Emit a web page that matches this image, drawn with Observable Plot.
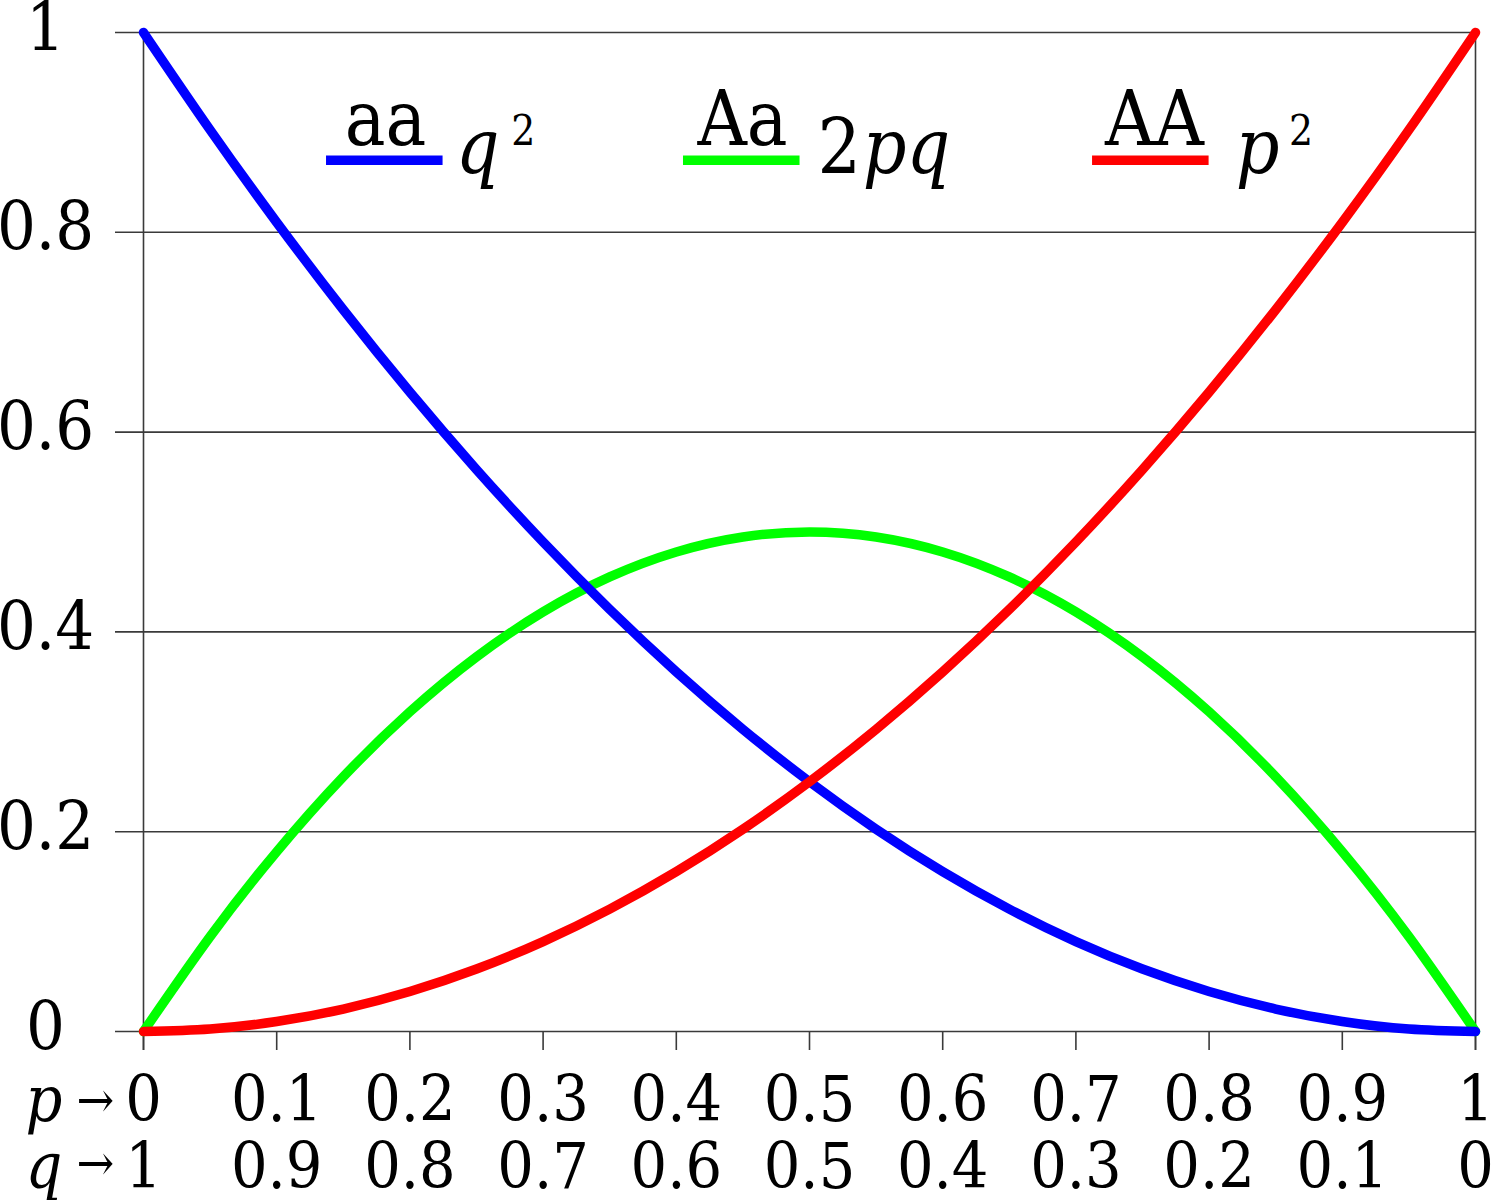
<!DOCTYPE html>
<html><head><meta charset="utf-8">
<script src="https://cdn.jsdelivr.net/npm/d3@7"></script>
<script src="https://cdn.jsdelivr.net/npm/@observablehq/plot@0.6"></script>
<style>
html,body{margin:0;padding:0;background:#fff}
#chart svg{display:block}
</style>
</head><body><div id="chart"></div>
<script>
// p (allele A frequency) sample points
const pValues = [0,0.05,0.1,0.15,0.2,0.25,0.3,0.35,0.4,0.45,0.5,0.55,0.6,0.65,0.7,0.75,0.8,0.85,0.9,0.95,1];
// aa : q^2 (blue)
const aaValues = [1,0.9025,0.81,0.7225,0.64,0.5625,0.49,0.4225,0.36,0.3025,0.25,0.2025,0.16,0.1225,0.09,0.0625,0.04,0.0225,0.01,0.0025,0];
// Aa : 2pq (green)
const AaValues = [0,0.095,0.18,0.255,0.32,0.375,0.42,0.455,0.48,0.495,0.5,0.495,0.48,0.455,0.42,0.375,0.32,0.255,0.18,0.095,0];
// AA : p^2 (red)
const AAValues = [0,0.0025,0.01,0.0225,0.04,0.0625,0.09,0.1225,0.16,0.2025,0.25,0.3025,0.36,0.4225,0.49,0.5625,0.64,0.7225,0.81,0.9025,1];

const xTicks = [0,0.1,0.2,0.3,0.4,0.5,0.6,0.7,0.8,0.9,1];
const pTickLabels = ["0","0.1","0.2","0.3","0.4","0.5","0.6","0.7","0.8","0.9","1"];
const qTickLabels = ["1","0.9","0.8","0.7","0.6","0.5","0.4","0.3","0.2","0.1","0"];
const yTicks = [0,0.2,0.4,0.6,0.8,1];
const yTickLabels = ["0","0.2","0.4","0.6","0.8","1"];

const genotypes = ["aa","Aa","AA"];
const formulaPrefix = ["","2",""];
const formulaVars = ["q","pq","p"];
const formulaSup = ["2","","2"];
const seriesColors = ["#0000ff","#00ff00","#ff0000"];

// table built from the arrays (drawing order: green, blue, red)
const series = [
  {name:"Aa", values: AaValues, color: seriesColors[1]},
  {name:"aa", values: aaValues, color: seriesColors[0]},
  {name:"AA", values: AAValues, color: seriesColors[2]}
];

// legend layout (frame-relative, in data units)
const legendLayout = {
  lineY: 0.872, labelY: 0.887, formulaY: 0.859, supY: 0.887,
  lineX1: [0.1374, 0.4054, 0.7125], lineLen: 0.0875,
  labelX: [0.1817, 0.4497, 0.7590],
  prefixX: [null, 0.5060, null],
  varX: [0.2345, 0.5400, 0.8200],
  supX: [0.2760, null, 0.8600]
};

const serif = "'DejaVu Serif Condensed', 'DejaVu Serif', serif";
const gridColor = "#3a3a3a";
const curveWidth = 9.5;

const marks = [
  Plot.ruleY(yTicks, {stroke: gridColor, strokeWidth: 1.6, insetLeft: -28}),
  Plot.ruleX([xTicks[0], xTicks[xTicks.length-1]], {stroke: gridColor, strokeWidth: 1.6, insetBottom: -19}),
  Plot.axisX({ticks: xTicks, tickSize: 19, tickFormat: () => "", stroke: gridColor, strokeWidth: 1.6, label: null}),
  Plot.text(yTicks, {y: d => d, text: (d, i) => yTickLabels[i], frameAnchor: "left", dx: -98, dy: 17,
    textAnchor: "middle", lineAnchor: "bottom", fontSize: 68, fill: "black"}),
  Plot.text(xTicks, {x: d => d, text: (d, i) => pTickLabels[i], frameAnchor: "bottom", dy: 89,
    textAnchor: "middle", lineAnchor: "bottom", fontSize: 64, fill: "black"}),
  Plot.text(xTicks, {x: d => d, text: (d, i) => qTickLabels[i], frameAnchor: "bottom", dy: 156,
    textAnchor: "middle", lineAnchor: "bottom", fontSize: 64, fill: "black"}),
  Plot.text(["p"], {text: d => d, frameAnchor: "bottom-left", dx: -118, dy: 89,
    textAnchor: "start", lineAnchor: "bottom", fontSize: 64, fontStyle: "italic", fill: "black"}),
  Plot.text(["q"], {text: d => d, frameAnchor: "bottom-left", dx: -118, dy: 156,
    textAnchor: "start", lineAnchor: "bottom", fontSize: 64, fontStyle: "italic", fill: "black"}),
  Plot.text(["→"], {text: d => d, frameAnchor: "bottom-left", dx: -67, dy: 85,
    textAnchor: "start", lineAnchor: "bottom", fontSize: 50, fill: "black"}),
  Plot.text(["→"], {text: d => d, frameAnchor: "bottom-left", dx: -67, dy: 148,
    textAnchor: "start", lineAnchor: "bottom", fontSize: 50, fill: "black"})
];

for (const s of series) {
  marks.push(Plot.line(pValues, {x: d => d, y: (d, i) => s.values[i], stroke: s.color, strokeWidth: curveWidth,
    strokeLinecap: "round", strokeLinejoin: "round", curve: "natural"}));
}

genotypes.forEach((g, i) => {
  const L = legendLayout;
  marks.push(Plot.ruleY([L.lineY], {x1: L.lineX1[i], x2: L.lineX1[i] + L.lineLen, stroke: seriesColors[i], strokeWidth: curveWidth}));
  marks.push(Plot.text([g], {x: L.labelX[i], y: L.labelY, text: d => d, textAnchor: "middle", lineAnchor: "bottom", fontSize: 76, fill: "black"}));
  if (formulaPrefix[i]) marks.push(Plot.text([formulaPrefix[i]], {x: L.prefixX[i], y: L.formulaY, text: d => d, textAnchor: "start", lineAnchor: "bottom", fontSize: 76, fill: "black"}));
  marks.push(Plot.text([formulaVars[i]], {x: L.varX[i], y: L.formulaY, text: d => d, textAnchor: "start", lineAnchor: "bottom", fontSize: 76, fontStyle: "italic", fill: "black"}));
  if (formulaSup[i]) marks.push(Plot.text([formulaSup[i]], {x: L.supX[i], y: L.supY, text: d => d, textAnchor: "start", lineAnchor: "bottom", fontSize: 42, fill: "black"}));
});

const chart = Plot.plot({
  width: 1492,
  height: 1200,
  marginLeft: 143,
  marginRight: 17,
  marginTop: 32,
  marginBottom: 169,
  x: {domain: [0, 1], axis: null},
  y: {domain: [0, 1], axis: null},
  style: {fontFamily: serif, background: "white", overflow: "visible"},
  marks
});
document.getElementById("chart").appendChild(chart);
</script>
</body></html>
